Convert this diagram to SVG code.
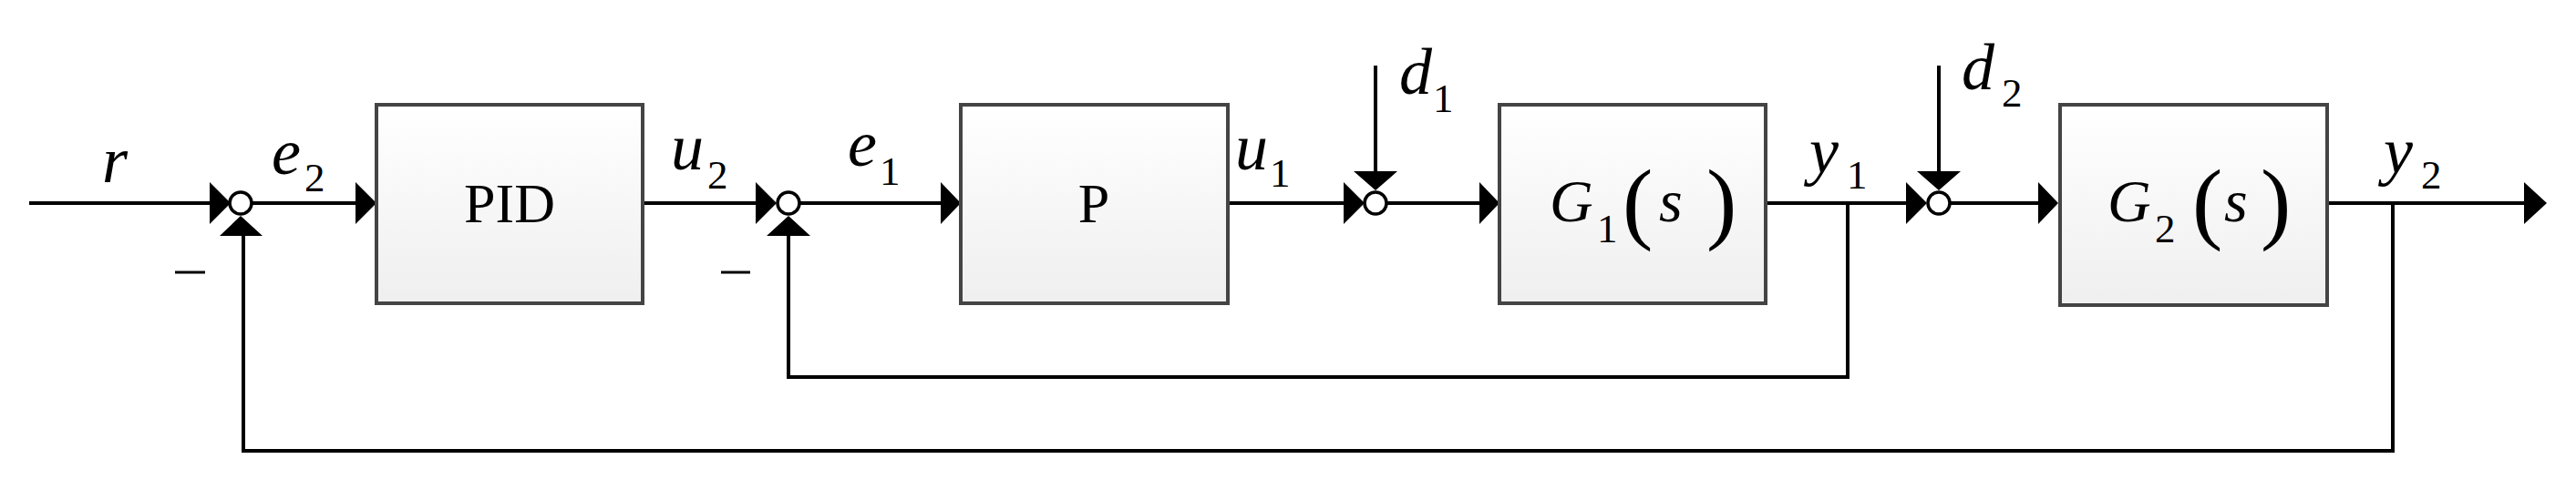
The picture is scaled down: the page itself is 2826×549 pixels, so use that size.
<svg xmlns="http://www.w3.org/2000/svg" width="2826" height="549" viewBox="0 0 2826 549">
<defs>
<linearGradient id="bg" x1="0" y1="0" x2="0" y2="1"><stop offset="0" stop-color="#ffffff"/><stop offset="1" stop-color="#efefef"/></linearGradient>
</defs>
<style>
.box{fill:url(#bg);stroke:#444;stroke-width:4}
.ln{stroke:#000;stroke-width:4;fill:none}
.ah{fill:#000}
.sum{fill:#fff;stroke:#000;stroke-width:3.5}
.v{font-family:"Liberation Serif",serif;font-style:italic;font-size:72px}
.s{font-family:"Liberation Serif",serif;font-size:45px}
.t{font-family:"Liberation Serif",serif;font-size:62px}
.g{font-family:"Liberation Serif",serif;font-style:italic;font-size:66px}
.p{font-family:"Liberation Serif",serif;font-size:100px;font-weight:100}
</style>
<rect width="2826" height="549" fill="#fff"/>
<g id="connectors">
<path class="ln" d="M32 223H230 M277 223H392 M705 223H831 M878 223H1034 M1347 223H1476 M1522 223H1625 M1937 223H2093 M2140 223H2238 M2553 223H2772"/>
<path class="ln" d="M2027 223V414H865V258 M2625 223V495H267V258 M1509 72V190 M2127 72V190"/>
<path class="ah" d="M230 200L253 223L230 246Z M390 200L413 223L390 246Z M829 200L852 223L829 246Z M1032 200L1054 223L1032 246Z M1474 200L1497 223L1474 246Z M1623 200L1645 223L1623 246Z M2091 200L2114 223L2091 246Z M2236 200L2258 223L2236 246Z M2769 200L2794 223L2769 246Z"/>
<path class="ah" d="M241 259L264 237L288 259Z M841 259L865 237L889 259Z M1485 188L1509 209L1533 188Z M2103 188L2127 209L2151 188Z"/>
<path class="ln" style="stroke-width:3" d="M192 299H225 M791 299H823"/>
</g>
<g id="sum1"><circle class="sum" cx="264" cy="223" r="12"/></g>
<g id="sum2"><circle class="sum" cx="865" cy="223" r="12"/></g>
<g id="sum3"><circle class="sum" cx="1509" cy="223" r="12"/></g>
<g id="sum4"><circle class="sum" cx="2127" cy="223" r="12"/></g>
<g id="pid"><rect class="box" x="413" y="115" width="292" height="218"/><text class="t" x="559" y="244" text-anchor="middle">PID</text></g>
<g id="p"><rect class="box" x="1054" y="115" width="293" height="218"/><text class="t" x="1200" y="244" text-anchor="middle">P</text></g>
<g id="g1"><rect class="box" x="1645" y="115" width="292" height="218"/>
<text class="g" x="1700" y="243">G</text><text class="s" x="1752" y="266">1</text>
<text class="p" x="1780" y="255">(</text><text class="g" x="1820" y="243">s</text><text class="p" x="1872" y="255">)</text></g>
<g id="g2"><rect class="box" x="2260" y="115" width="293" height="220"/>
<text class="g" x="2312" y="243">G</text><text class="s" x="2364" y="266">2</text>
<text class="p" x="2405" y="255">(</text><text class="g" x="2440" y="243">s</text><text class="p" x="2480" y="255">)</text></g>
<g id="labels">
<text class="v" x="112" y="200">r</text>
<text class="v" x="298" y="191">e</text><text class="s" x="334" y="210">2</text>
<text class="v" x="736" y="186">u</text><text class="s" x="776" y="207">2</text>
<text class="v" x="930" y="182">e</text><text class="s" x="965" y="203">1</text>
<text class="v" x="1355" y="186">u</text><text class="s" x="1393" y="205">1</text>
<text class="v" x="1535" y="103">d</text><text class="s" x="1572" y="123">1</text>
<text class="v" x="2152" y="98">d</text><text class="s" x="2196" y="117">2</text>
<text class="v" x="1985" y="190">y</text><text class="s" x="2026" y="207">1</text>
<text class="v" x="2615" y="190">y</text><text class="s" x="2656" y="207">2</text>
</g>
</svg>
